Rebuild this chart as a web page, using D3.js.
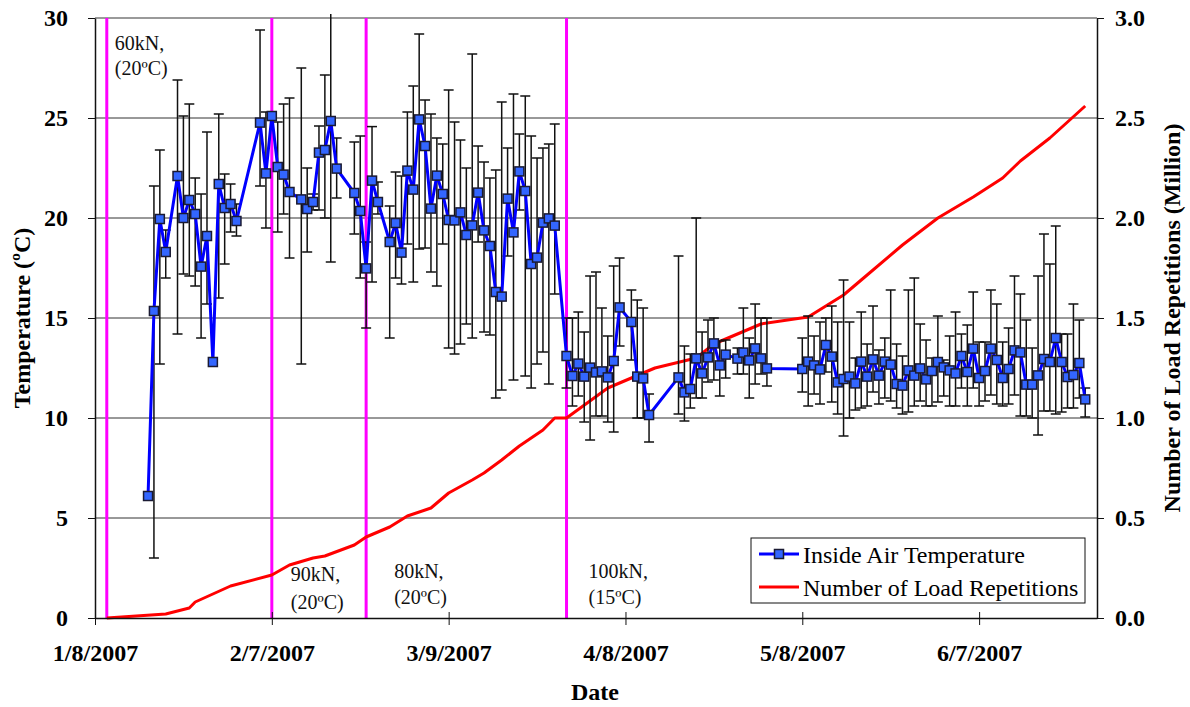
<!DOCTYPE html>
<html>
<head>
<meta charset="utf-8">
<script src="https://cdnjs.cloudflare.com/ajax/libs/d3/7.8.5/d3.min.js"></script>
<style>
  body { margin: 0; background: #fff; }
  svg { display: block; }
</style>
</head>
<body>
<svg width="1190" height="707"></svg>
<script>
// daily inside air temperature (mean, max, min)
const tempDates = [
  "1/17/2007","1/18/2007","1/19/2007","1/20/2007","1/22/2007","1/23/2007","1/24/2007","1/25/2007","1/26/2007","1/27/2007",
  "1/28/2007","1/29/2007","1/30/2007","1/31/2007","2/1/2007","2/5/2007","2/6/2007","2/7/2007","2/8/2007","2/9/2007",
  "2/10/2007","2/12/2007","2/13/2007","2/14/2007","2/15/2007","2/16/2007","2/17/2007","2/18/2007","2/21/2007","2/22/2007",
  "2/23/2007","2/24/2007","2/25/2007","2/27/2007","2/28/2007","3/1/2007","3/2/2007","3/3/2007","3/4/2007","3/5/2007",
  "3/6/2007","3/7/2007","3/8/2007","3/9/2007","3/10/2007","3/11/2007","3/12/2007","3/13/2007","3/14/2007","3/15/2007",
  "3/16/2007","3/17/2007","3/18/2007","3/19/2007","3/20/2007","3/21/2007","3/22/2007","3/23/2007","3/24/2007","3/25/2007",
  "3/26/2007","3/27/2007","3/29/2007","3/30/2007","3/31/2007","4/1/2007","4/2/2007","4/3/2007","4/4/2007","4/5/2007",
  "4/6/2007","4/7/2007","4/9/2007","4/10/2007","4/11/2007","4/12/2007","4/17/2007","4/18/2007","4/19/2007","4/20/2007",
  "4/21/2007","4/22/2007","4/23/2007","4/24/2007","4/25/2007","4/27/2007","4/28/2007","4/29/2007","4/30/2007","5/1/2007",
  "5/2/2007","5/8/2007","5/9/2007","5/10/2007","5/11/2007","5/12/2007","5/13/2007","5/14/2007","5/15/2007","5/16/2007",
  "5/17/2007","5/18/2007","5/19/2007","5/20/2007","5/21/2007","5/22/2007","5/23/2007","5/24/2007","5/25/2007","5/26/2007",
  "5/27/2007","5/28/2007","5/29/2007","5/30/2007","5/31/2007","6/1/2007","6/2/2007","6/3/2007","6/4/2007","6/5/2007",
  "6/6/2007","6/7/2007","6/8/2007","6/9/2007","6/10/2007","6/11/2007","6/12/2007","6/13/2007","6/14/2007","6/15/2007",
  "6/16/2007","6/17/2007","6/18/2007","6/19/2007","6/20/2007","6/21/2007","6/22/2007","6/23/2007","6/24/2007","6/25/2007"
];
const tempMean = [
  6.1,15.35,19.95,18.3,22.1,20.0,20.9,20.2,17.57,19.1,
  12.8,21.7,20.5,20.7,19.85,24.77,22.23,25.1,22.55,22.17,
  21.3,20.93,20.45,20.8,23.27,23.4,24.85,22.47,21.25,20.35,
  17.48,21.87,20.8,18.8,19.75,18.27,22.37,21.42,24.93,23.6,
  20.47,22.12,21.2,19.9,19.88,20.28,19.15,19.63,21.27,19.38,
  18.6,16.3,16.07,20.97,19.28,22.33,21.35,17.7,18.02,19.77,
  19.98,19.62,13.1,12.1,12.72,12.07,12.52,12.28,12.33,12.03,
  12.85,15.53,14.8,12.07,11.98,10.15,12.03,11.28,11.45,12.98,
  12.23,13.03,13.73,12.63,13.17,12.97,13.27,12.88,13.48,12.98,
  12.48,12.45,12.82,12.63,12.43,13.65,13.07,11.78,11.95,12.07,
  11.73,12.82,12.07,12.93,12.12,12.82,12.67,11.7,11.62,12.38,
  12.12,12.48,11.93,12.35,12.8,12.53,12.38,12.23,13.1,12.3,
  13.47,12.0,12.35,13.47,12.9,12.0,12.45,13.38,13.28,11.67,
  11.67,12.13,12.95,12.8,14.0,12.8,12.05,12.15,12.75,10.93
];
const tempMax = [
  6.1,21.6,23.4,19.4,26.9,25.1,25.7,22.0,21.2,24.3,
  12.8,25.2,22.2,21.7,20.7,29.4,25.3,25.3,24.8,25.7,
  26.0,27.5,22.5,21.2,24.6,27.15,30.3,24.0,23.8,24.1,
  18.8,24.57,21.8,20.6,22.3,22.1,25.3,26.6,29.2,25.9,
  25.2,24.0,23.7,26.4,24.8,23.9,22.5,28.2,23.6,22.8,
  22.0,22.4,25.8,23.5,26.2,24.2,26.1,24.1,23.0,23.5,
  23.7,24.7,15.0,15.0,15.3,14.3,17.1,17.3,15.5,14.1,
  17.6,18.0,16.4,15.9,15.5,11.2,18.1,13.6,13.2,20.0,
  14.3,14.9,15.0,13.85,13.9,13.5,15.5,14.0,15.7,15.0,
  15.0,14.0,15.1,14.1,14.8,15.0,15.6,14.8,16.9,14.8,
  13.0,15.3,13.7,15.6,13.4,14.0,16.4,13.7,13.1,16.4,
  17.0,14.7,13.9,13.0,15.1,12.9,14.1,15.3,14.2,14.65,
  16.3,13.8,13.8,16.4,15.7,13.8,14.5,17.1,16.2,14.9,
  13.5,17.1,19.2,17.7,19.6,14.2,14.2,15.7,14.9,11.5
];
const tempMin = [
  6.1,3.0,12.7,17.0,14.2,17.2,17.1,16.6,14.0,15.7,
  12.8,16.0,17.7,19.3,19.1,21.6,19.5,24.9,19.3,20.2,
  18.0,12.7,18.3,20.4,20.4,20.0,17.8,21.0,19.2,17.0,
  14.5,16.8,20.2,14.0,17.0,16.7,18.7,16.8,18.45,18.5,
  17.3,16.6,18.7,13.5,13.2,13.7,14.7,14.0,18.8,14.3,
  14.15,11.0,11.4,18.1,11.9,20.4,12.1,11.5,12.7,13.3,
  11.7,16.2,11.5,10.6,11.1,9.8,8.9,10.1,10.1,9.8,
  9.3,13.6,12.9,10.0,10.0,8.8,10.2,9.85,10.5,11.0,
  11.0,11.8,11.9,11.1,12.0,12.2,12.2,11.0,11.7,12.2,
  11.6,11.3,10.6,11.2,10.7,12.3,10.8,10.2,9.1,10.0,
  10.4,10.5,10.6,11.3,10.7,11.0,10.85,10.5,10.2,10.3,
  10.6,10.85,10.6,10.6,10.8,11.1,10.6,10.6,11.5,10.6,
  11.5,10.6,10.85,11.15,10.7,10.6,10.7,11.15,10.1,10.1,
  10.0,9.15,10.35,10.35,10.2,10.3,10.5,10.5,11.0,10.05
];

// cumulative number of load repetitions (million)
const loadDates = [
  "1/10/2007","1/20/2007","1/24/2007","1/25/2007","1/31/2007","2/7/2007","2/10/2007","2/14/2007","2/16/2007","2/21/2007",
  "2/23/2007","2/27/2007","3/2/2007","3/6/2007","3/9/2007","3/13/2007","3/15/2007","3/18/2007","3/21/2007","3/25/2007",
  "3/27/2007","3/29/2007","4/5/2007","4/11/2007","4/13/2007","4/20/2007","4/23/2007","5/1/2007","5/9/2007","5/15/2007",
  "5/18/2007","5/25/2007","5/31/2007","6/6/2007","6/11/2007","6/14/2007","6/19/2007","6/25/2007"
];
const loadMillions = [
  0.0,0.02,0.05,0.08,0.16,0.215,0.265,0.30,0.31,0.365,
  0.405,0.455,0.51,0.55,0.625,0.69,0.725,0.79,0.86,0.94,
  1.0,1.0,1.15,1.225,1.25,1.30,1.37,1.47,1.505,1.615,
  1.69,1.865,2.0,2.105,2.2,2.285,2.40,2.56
];

// loading phases
const phaseDates = ["1/10/2007","2/7/2007","2/23/2007","3/29/2007"];
const phaseLoad = ["60kN,","90kN,","80kN,","100kN,"];
const phaseTemp = ["(20ºC)","(20ºC)","(20ºC)","(15ºC)"];

const xTickDates = ["1/8/2007","2/7/2007","3/9/2007","4/8/2007","5/8/2007","6/7/2007"];
const tempTicks = [0,5,10,15,20,25,30];
const loadTicks = [0,0.5,1,1.5,2,2.5,3];

const parse = d3.timeParse("%m/%d/%Y");
const fmt = d3.timeFormat("%-m/%-d/%Y");

const svg = d3.select("svg");
const plotLeft = 95, plotRight = 1097, plotTop = 18, plotBottom = 618;

const x = d3.scaleTime()
  .domain([parse("1/8/2007"), parse("6/27/2007")])
  .range([plotLeft, plotRight]);
const yT = d3.scaleLinear().domain([0, 30]).range([plotBottom, plotTop]);
const yL = d3.scaleLinear().domain([0, 3]).range([plotBottom, plotTop]);

const serif = "'Liberation Serif', 'Times New Roman', serif";

// gridlines
svg.append("g").selectAll("line")
  .data(tempTicks.filter(d => d > 0))
  .enter().append("line")
  .attr("x1", plotLeft).attr("x2", plotRight)
  .attr("y1", d => yT(d)).attr("y2", d => yT(d))
  .attr("stroke", d => d === 30 ? "#9a9a9a" : "#333")
  .attr("stroke-width", d => d === 30 ? 2 : 1);

// phase lines
svg.append("g").selectAll("line")
  .data(phaseDates)
  .enter().append("line")
  .attr("x1", d => x(parse(d))).attr("x2", d => x(parse(d)))
  .attr("y1", yT(30)).attr("y2", yT(0))
  .attr("stroke", "#ff00ff").attr("stroke-width", 3);

// load repetitions
const loadData = loadDates.map((d, i) => ({date: parse(d), v: loadMillions[i]}));
svg.append("path")
  .datum(loadData)
  .attr("fill", "none")
  .attr("stroke", "#ff0000")
  .attr("stroke-width", 3)
  .attr("stroke-linejoin", "round")
  .attr("d", d3.line().x(d => x(d.date)).y(d => yL(d.v)));

// temperature
const tempData = tempDates.map((d, i) => ({
  date: parse(d), mean: tempMean[i], hi: tempMax[i], lo: tempMin[i]
}));

svg.append("clipPath").attr("id", "plotclip")
  .append("rect").attr("x", 0).attr("y", plotTop - 4).attr("width", 1190).attr("height", plotBottom - plotTop + 4);

const bars = svg.append("g")
  .attr("clip-path", "url(#plotclip)")
  .attr("stroke", "#111").attr("stroke-width", 1.5);
const withBars = tempData.filter(d => d.hi > d.lo);
bars.selectAll(".stem").data(withBars).enter().append("line")
  .attr("x1", d => x(d.date)).attr("x2", d => x(d.date))
  .attr("y1", d => yT(d.hi)).attr("y2", d => yT(d.lo));
bars.selectAll(".capHi").data(withBars.filter(d => d.hi <= 30)).enter().append("line")
  .attr("x1", d => x(d.date) - 5).attr("x2", d => x(d.date) + 5)
  .attr("y1", d => yT(d.hi)).attr("y2", d => yT(d.hi));
bars.selectAll(".capLo").data(withBars).enter().append("line")
  .attr("x1", d => x(d.date) - 5).attr("x2", d => x(d.date) + 5)
  .attr("y1", d => yT(d.lo)).attr("y2", d => yT(d.lo));

svg.append("path")
  .datum(tempData)
  .attr("fill", "none")
  .attr("stroke", "#0000ff")
  .attr("stroke-width", 3)
  .attr("stroke-linejoin", "round")
  .attr("d", d3.line().x(d => x(d.date)).y(d => yT(d.mean)));

svg.append("g").selectAll("rect")
  .data(tempData)
  .enter().append("rect")
  .attr("x", d => x(d.date) - 4.5)
  .attr("y", d => yT(d.mean) - 4.5)
  .attr("width", 9).attr("height", 9)
  .attr("fill", "#3366ff")
  .attr("stroke", "#1a1a33").attr("stroke-width", 1.5);

// phase labels
const labelOffset = [{dx: 8, y1: 50, y2: 75}, {dx: 19, y1: 581, y2: 609},
                     {dx: 28, y1: 578, y2: 604}, {dx: 22, y1: 578, y2: 604}];
phaseDates.forEach((d, i) => {
  const t = svg.append("text")
    .attr("font-family", serif).attr("font-size", 20).attr("fill", "#111");
  t.append("tspan").attr("x", x(parse(d)) + labelOffset[i].dx).attr("y", labelOffset[i].y1).text(phaseLoad[i]);
  t.append("tspan").attr("x", x(parse(d)) + labelOffset[i].dx).attr("y", labelOffset[i].y2).text(phaseTemp[i]);
});

// axes
const axisLeft = svg.append("g")
  .attr("transform", "translate(" + plotLeft + ",0)")
  .call(d3.axisLeft(yT).tickValues(tempTicks).tickSizeInner(7).tickSizeOuter(0).tickPadding(20));
const axisRight = svg.append("g")
  .attr("transform", "translate(" + plotRight + ",0)")
  .call(d3.axisRight(yL).tickValues(loadTicks).tickSizeInner(7).tickSizeOuter(0).tickPadding(11)
        .tickFormat(d3.format(".1f")));
const axisBottom = svg.append("g")
  .attr("transform", "translate(0," + plotBottom + ")")
  .call(d3.axisBottom(x).tickValues(xTickDates.map(parse)).tickSizeOuter(0).tickFormat(fmt));

[axisLeft, axisRight, axisBottom].forEach(a => {
  a.select(".domain").attr("stroke", "#111").attr("stroke-width", 1.5);
  a.selectAll(".tick line").attr("stroke", "#111").attr("stroke-width", 1);
  a.selectAll("text")
    .attr("font-family", serif).attr("font-size", 24).attr("font-weight", "bold").attr("fill", "#000");
});
axisBottom.selectAll(".tick line").attr("y1", -6).attr("y2", 7);
axisBottom.selectAll(".tick text").attr("y", 43).attr("dy", 0);
axisLeft.selectAll(".tick text").attr("dy", "0.33em");
axisRight.selectAll(".tick text").attr("dy", "0.33em");

// axis titles
svg.append("text")
  .attr("transform", "translate(30,318) rotate(-90)")
  .attr("text-anchor", "middle")
  .attr("font-family", serif).attr("font-size", 24).attr("font-weight", "bold")
  .text("Temperature (ºC)");
svg.append("text")
  .attr("transform", "translate(1180,318) rotate(-90)")
  .attr("text-anchor", "middle")
  .attr("font-family", serif).attr("font-size", 24).attr("font-weight", "bold")
  .text("Number of Load Repetitions (Million)");
svg.append("text")
  .attr("x", 595).attr("y", 700)
  .attr("text-anchor", "middle")
  .attr("font-family", serif).attr("font-size", 24).attr("font-weight", "bold")
  .text("Date");

// legend
const legend = svg.append("g");
legend.append("rect")
  .attr("x", 751).attr("y", 538).attr("width", 334).attr("height", 65)
  .attr("fill", "#fff").attr("stroke", "#111").attr("stroke-width", 1);
legend.append("line")
  .attr("x1", 759).attr("x2", 799).attr("y1", 554).attr("y2", 554)
  .attr("stroke", "#0000ff").attr("stroke-width", 3);
legend.append("rect")
  .attr("x", 774.5).attr("y", 549.5).attr("width", 9).attr("height", 9)
  .attr("fill", "#3366ff").attr("stroke", "#1a1a33").attr("stroke-width", 1.5);
legend.append("line")
  .attr("x1", 759).attr("x2", 799).attr("y1", 587).attr("y2", 587)
  .attr("stroke", "#ff0000").attr("stroke-width", 3);
legend.append("text")
  .attr("x", 803).attr("y", 563)
  .attr("font-family", serif).attr("font-size", 24)
  .text("Inside Air Temperature");
legend.append("text")
  .attr("x", 803).attr("y", 596)
  .attr("font-family", serif).attr("font-size", 24)
  .text("Number of Load Repetitions");
</script>
</body>
</html>
